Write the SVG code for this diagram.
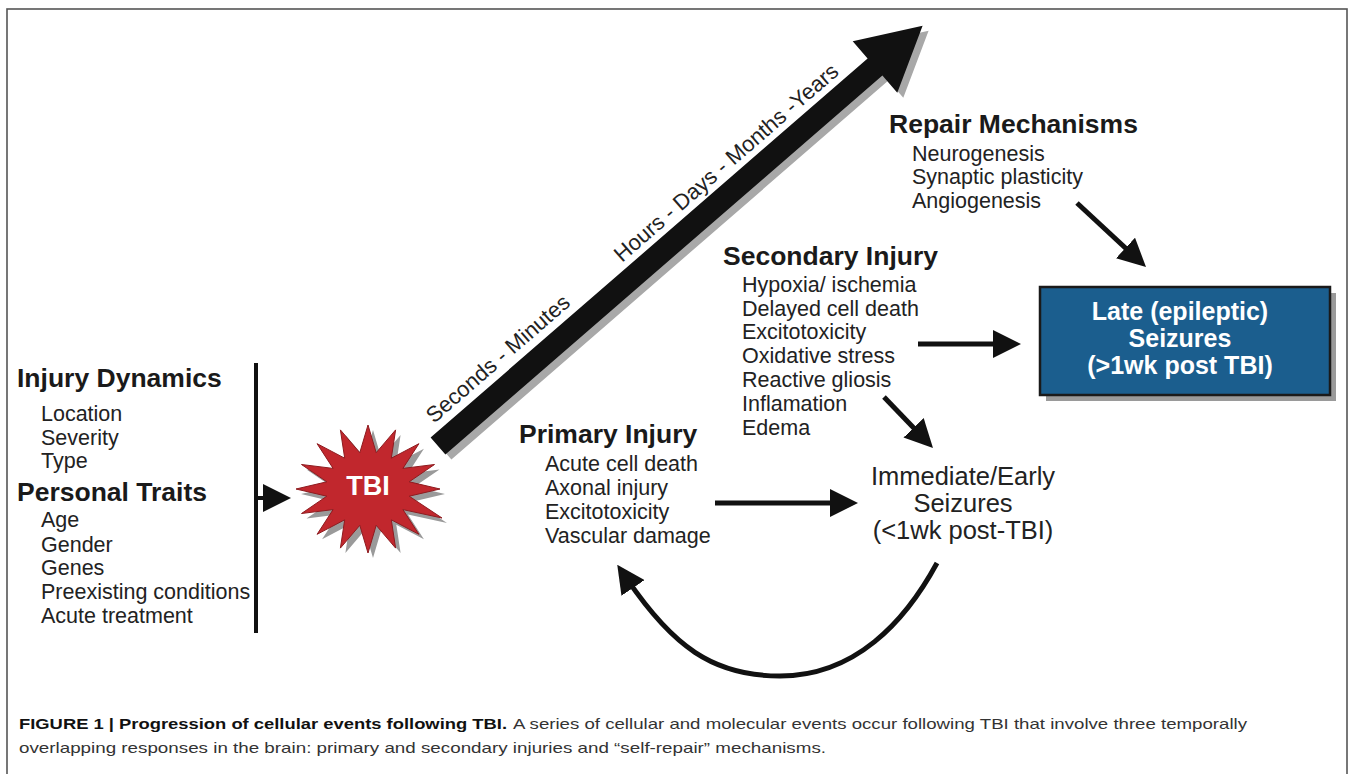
<svg xmlns="http://www.w3.org/2000/svg" width="1350" height="774" viewBox="0 0 1350 774">
<style>
  text { font-family: "Liberation Sans", Arial, sans-serif; fill: #222; }
  .h { font-size: 26.5px; font-weight: bold; fill: #1a1a1a; }
  .li { font-size: 21.5px; }
  .time { font-size: 22px; }
  .big { font-size: 25.5px; }
  .boxt { font-size: 25px; font-weight: bold; fill: #ffffff; }
  .cap { font-size: 15px; fill: #333; }
  .capb { font-size: 15px; font-weight: bold; fill: #111; }
  .conn { stroke: #111; stroke-width: 5; fill: none; marker-end: url(#ah); }
</style>
<defs>
  <marker id="ah" markerUnits="userSpaceOnUse" markerWidth="28" markerHeight="28" refX="10" refY="14" orient="auto">
    <path d="M0,0 L28,14 L0,28 z" fill="#111"/>
  </marker>
</defs>
<rect x="0" y="0" width="1350" height="774" fill="#ffffff"/>
<rect x="7" y="9" width="1340" height="800" fill="none" stroke="#555" stroke-width="1.6"/>

<g id="injury-dynamics">
  <text class="h" x="17" y="387">Injury Dynamics</text>
  <text class="li" x="41" y="421">Location</text>
  <text class="li" x="41" y="445">Severity</text>
  <text class="li" x="41" y="468">Type</text>
</g>
<g id="personal-traits">
  <text class="h" x="17" y="501">Personal Traits</text>
  <text class="li" x="41" y="527">Age</text>
  <text class="li" x="41" y="552">Gender</text>
  <text class="li" x="41" y="575">Genes</text>
  <text class="li" x="41" y="599">Preexisting conditions</text>
  <text class="li" x="41" y="623">Acute treatment</text>
</g>

<g id="tbi">
  <polygon transform="translate(5,5)" fill="#9a9a9a" points="368,425 376.2,452.7 395.6,429.9 391.3,458.2 418.9,443.7 402.9,468.4 434.5,464.5 409.2,481.8 440,489 409.2,496.2 442,518 402.9,509.6 418.9,534.3 391.3,519.8 395.6,548.1 376.2,525.3 368,553 359.8,525.3 340.4,548.1 344.7,519.8 317.1,534.3 333.1,509.6 301.5,513.5 326.8,496.2 296,489 326.8,481.8 301.5,464.5 333.1,468.4 317.1,443.7 344.7,458.2 340.4,429.9 359.8,452.7"/>
  <polygon fill="#c1272d" stroke="#8e1b1f" stroke-width="1" points="368,425 376.2,452.7 395.6,429.9 391.3,458.2 418.9,443.7 402.9,468.4 434.5,464.5 409.2,481.8 440,489 409.2,496.2 442,518 402.9,509.6 418.9,534.3 391.3,519.8 395.6,548.1 376.2,525.3 368,553 359.8,525.3 340.4,548.1 344.7,519.8 317.1,534.3 333.1,509.6 301.5,513.5 326.8,496.2 296,489 326.8,481.8 301.5,464.5 333.1,468.4 317.1,443.7 344.7,458.2 340.4,429.9 359.8,452.7"/>
  <text x="368" y="495" text-anchor="middle" style="font-size:27px;font-weight:bold;fill:#ffffff">TBI</text>
</g>

<g id="timeline">
  <polygon transform="translate(6,5)" fill="#a8a8a8" points="430.6,437.5 867.6,58.5 852.7,41.3 922.6,25.7 897.3,92.7 882.4,75.5 445.4,454.5"/>
  <polygon fill="#111" points="430.6,437.5 867.6,58.5 852.7,41.3 922.6,25.7 897.3,92.7 882.4,75.5 445.4,454.5"/>
  <text class="time" transform="translate(434,424) rotate(-41)">Seconds - Minutes</text>
  <text class="time" transform="translate(622,263) rotate(-41)">Hours - Days - Months -Years</text>
</g>

<g id="repair">
  <text class="h" x="889" y="133">Repair Mechanisms</text>
  <text class="li" x="912" y="161">Neurogenesis</text>
  <text class="li" x="912" y="184">Synaptic plasticity</text>
  <text class="li" x="912" y="208">Angiogenesis</text>
</g>

<g id="secondary">
  <text class="h" x="723" y="265">Secondary Injury</text>
  <text class="li" x="742" y="292">Hypoxia/ ischemia</text>
  <text class="li" x="742" y="316">Delayed cell death</text>
  <text class="li" x="742" y="339">Excitotoxicity</text>
  <text class="li" x="742" y="363">Oxidative stress</text>
  <text class="li" x="742" y="387">Reactive gliosis</text>
  <text class="li" x="742" y="411">Inflamation</text>
  <text class="li" x="742" y="435">Edema</text>
</g>

<g id="primary">
  <text class="h" x="519" y="443">Primary Injury</text>
  <text class="li" x="545" y="471">Acute cell death</text>
  <text class="li" x="545" y="495">Axonal injury</text>
  <text class="li" x="545" y="519">Excitotoxicity</text>
  <text class="li" x="545" y="543">Vascular damage</text>
</g>

<g id="late-seizures">
  <rect x="1046" y="293" width="290" height="108" fill="#9a9a9a"/>
  <rect x="1040" y="287" width="290" height="108" fill="#1b5e8e" stroke="#1a1a1a" stroke-width="2.5"/>
  <text class="boxt" x="1180" y="320" text-anchor="middle">Late (epileptic)</text>
  <text class="boxt" x="1180" y="347" text-anchor="middle">Seizures</text>
  <text class="boxt" x="1180" y="374" text-anchor="middle">(&gt;1wk post TBI)</text>
</g>

<g id="early-seizures">
  <text class="big" x="963" y="485" text-anchor="middle">Immediate/Early</text>
  <text class="big" x="963" y="512" text-anchor="middle">Seizures</text>
  <text class="big" x="963" y="539" text-anchor="middle">(&lt;1wk post-TBI)</text>
</g>

<g id="connectors">
  <line x1="256" y1="363" x2="256" y2="633" stroke="#111" stroke-width="4"/>
  <line class="conn" x1="256" y1="498" x2="273" y2="498" style="stroke-width:4"/>
  <line class="conn" x1="715" y1="503" x2="840" y2="503"/>
  <line class="conn" x1="918" y1="344" x2="1003" y2="344"/>
  <line class="conn" x1="884" y1="397" x2="920.5" y2="435"/>
  <line class="conn" x1="1077" y1="203" x2="1132.8" y2="254.8"/>
  <path class="conn" d="M937,563 C905,622 855,676 780,676 C712,676 672,645 627.4,579.7"/>
</g>

<g id="caption">
  <text class="capb" x="19" y="729" textLength="488" lengthAdjust="spacingAndGlyphs">FIGURE 1 | Progression of cellular events following TBI.</text>
  <text class="cap" x="513" y="729" textLength="734" lengthAdjust="spacingAndGlyphs">A series of cellular and molecular events occur following TBI that involve three temporally</text>
  <text class="cap" x="19" y="753" textLength="807" lengthAdjust="spacingAndGlyphs">overlapping responses in the brain: primary and secondary injuries and “self-repair” mechanisms.</text>
</g>
</svg>
